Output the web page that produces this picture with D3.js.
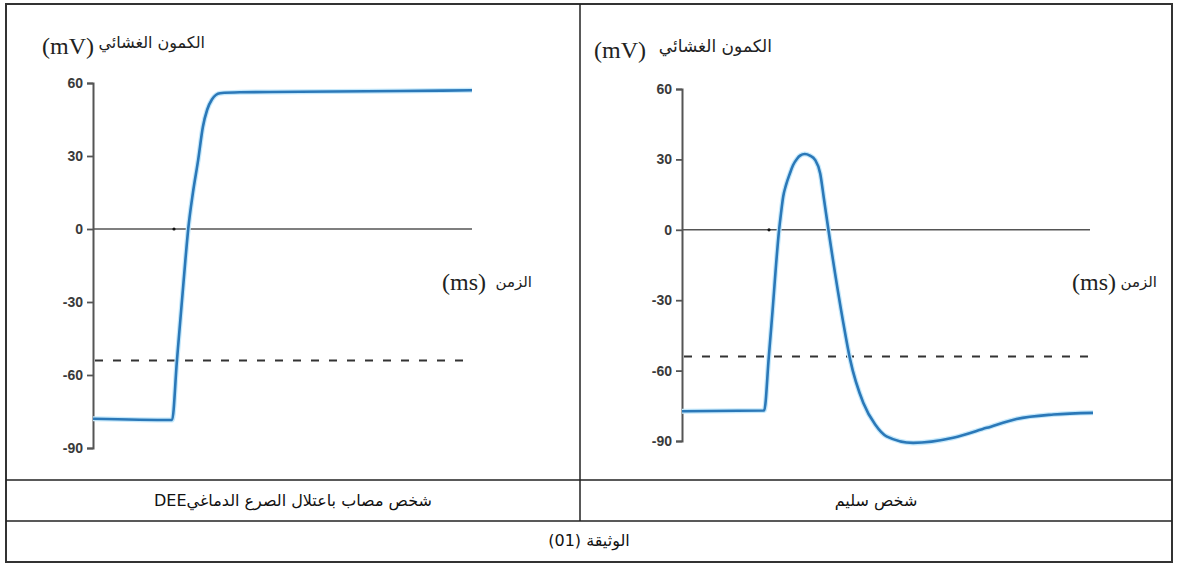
<!DOCTYPE html>
<html>
<head>
<meta charset="utf-8">
<script src="https://cdn.jsdelivr.net/npm/d3@7"></script>
<style>
  body { margin: 0; background: #fff; }
  svg { display: block; }
</style>
</head>
<body>
<svg id="doc" width="1177" height="565"></svg>
<script>
// Membrane potential ticks (mV) and the excitation threshold
const tickValues = [60, 30, 0, -30, -60, -90];
const thresholdMV = -54;
const timeDomain = [0, 8];

// Patient with developmental epileptic encephalopathy (DEE)
const deeTime = [0, 1.67, 1.77, 1.95, 2.01, 2.11, 2.22, 2.32, 2.41, 2.51, 2.68, 3.1, 4.37, 6.48, 8.0];
const deeMV   = [-78, -78.5, -54.5, -12.8, 0, 15, 28.4, 42, 49, 53.2, 55.8, 56.2, 56.4, 56.7, 57];

// Healthy person
const healthyTime = [0, 1.6, 1.69, 1.75, 1.89, 1.927, 1.97, 2.024, 2.1, 2.161, 2.24, 2.298, 2.39, 2.491, 2.59, 2.69, 2.764, 2.85, 3.14, 3.27, 3.53, 3.76, 3.98, 4.5, 5.28, 5.93, 6.51, 7.23, 8.0];
const healthyMV   = [-77.3, -77.0, -54, -38, 0, 7, 14.2, 19, 24, 27.5, 30.3, 31.6, 32.3, 31.6, 29.8, 24, 13, 0, -39.7, -55, -73.8, -83, -88, -90.8, -88.6, -84.4, -80.6, -78.7, -78];

// Texts
const axisTitleAr = "الكمون الغشائي";
const axisUnit = "(mV)";
const timeTitleAr = "الزمن";
const timeUnit = "(ms)";
const captionDEE = "شخص مصاب باعتلال الصرع الدماغيDEE";
const captionHealthy = "شخص سليم";
const docTitle = "الوثيقة (01)";

const svg = d3.select("#doc");
const ink = "#2b78b8";
const axisGrey = "#555";

// Table frame
svg.append("rect")
  .attr("x", 6).attr("y", 4).attr("width", 1166).attr("height", 558)
  .attr("fill", "none").attr("stroke", "#333").attr("stroke-width", 2);
[480, 521].forEach(y => svg.append("line")
  .attr("x1", 6).attr("x2", 1172).attr("y1", y).attr("y2", y)
  .attr("stroke", "#222").attr("stroke-width", 1.5));
svg.append("line")
  .attr("x1", 580).attr("x2", 580).attr("y1", 4).attr("y2", 521)
  .attr("stroke", "#222").attr("stroke-width", 1.5);

function drawPanel(p) {
  const x = d3.scaleLinear().domain(timeDomain).range(p.xRange);
  const y = d3.scaleLinear().domain([-90, 60]).range(p.yRange);
  const g = svg.append("g");

  // zero line
  g.append("line")
    .attr("x1", x(0)).attr("x2", p.zeroEnd)
    .attr("y1", y(0)).attr("y2", y(0))
    .attr("stroke", axisGrey).attr("stroke-width", 1.6);
  g.append("circle").attr("cx", p.dotX).attr("cy", y(0)).attr("r", 1.6).attr("fill", "#111");

  // threshold
  g.append("line")
    .attr("x1", x(0) + 2).attr("x2", p.zeroEnd)
    .attr("y1", y(thresholdMV)).attr("y2", y(thresholdMV))
    .attr("stroke", "#333").attr("stroke-width", 2)
    .attr("stroke-dasharray", "8,10");

  // y axis
  const ax = g.append("g")
    .attr("transform", `translate(${x(0)},0)`)
    .call(d3.axisLeft(y).tickValues(tickValues).tickSize(6).tickPadding(4).tickFormat(d => String(d)));
  ax.select(".domain").attr("stroke", axisGrey).attr("stroke-width", 2);
  ax.selectAll(".tick line").attr("stroke", axisGrey).attr("stroke-width", 1.8);
  ax.selectAll(".tick text")
    .attr("font-family", "'Liberation Sans', Arial, sans-serif")
    .attr("font-weight", "bold").attr("font-size", 14).attr("fill", "#3a3a3a");

  // potential curve
  const pts = p.time.map((t, i) => [t, p.mv[i]]);
  const line = d3.line().x(d => x(d[0])).y(d => y(d[1])).curve(d3.curveMonotoneX);
  g.append("path")
    .attr("d", line(pts))
    .attr("fill", "none").attr("stroke", "#c4e8fb").attr("stroke-width", 5)
    .attr("stroke-linejoin", "round");
  g.append("path")
    .attr("d", line(pts))
    .attr("fill", "none").attr("stroke", ink).attr("stroke-width", 2.6)
    .attr("stroke-linejoin", "round");

  // axis titles
  g.append("text").attr("x", p.unitX).attr("y", p.unitY)
    .attr("font-family", "'Liberation Serif', 'Times New Roman', serif")
    .attr("font-size", 24).attr("fill", "#222").text(axisUnit);
  g.append("text").attr("x", p.arEnd).attr("y", p.unitY - 6)
    .attr("text-anchor", "end")
    .attr("font-family", "'DejaVu Serif', 'DejaVu Sans', serif")
    .attr("font-size", p.arSize).attr("fill", "#222").text(axisTitleAr);

  g.append("text").attr("x", p.msX).attr("y", p.msY)
    .attr("font-family", "'Liberation Serif', 'Times New Roman', serif")
    .attr("font-size", 24).attr("fill", "#222").text(timeUnit);
  g.append("text").attr("x", p.msArEnd).attr("y", p.msY - 3)
    .attr("text-anchor", "end")
    .attr("font-family", "'DejaVu Serif', 'DejaVu Sans', serif")
    .attr("font-size", 15).attr("fill", "#222").text(timeTitleAr);
}

drawPanel({
  xRange: [93, 472], yRange: [448, 83], zeroEnd: 472, dotX: 174,
  time: deeTime, mv: deeMV,
  unitX: 42, unitY: 54, arEnd: 205, arSize: 16,
  msX: 442, msY: 290, msArEnd: 532
});
drawPanel({
  xRange: [682, 1093], yRange: [441, 89], zeroEnd: 1090, dotX: 769,
  time: healthyTime, mv: healthyMV,
  unitX: 594, unitY: 58, arEnd: 772, arSize: 17,
  msX: 1072, msY: 290, msArEnd: 1157
});

// Captions
const capFont = "'DejaVu Sans', 'Noto Sans', sans-serif";
svg.append("text").attr("x", 293).attr("y", 506)
  .attr("text-anchor", "middle").attr("direction", "rtl")
  .attr("font-family", capFont).attr("font-size", 16).attr("fill", "#111")
  .text(captionDEE);
svg.append("text").attr("x", 876).attr("y", 506)
  .attr("text-anchor", "middle").attr("direction", "rtl")
  .attr("font-family", capFont).attr("font-size", 16).attr("fill", "#111")
  .text(captionHealthy);
svg.append("text").attr("x", 589).attr("y", 546)
  .attr("text-anchor", "middle").attr("direction", "rtl")
  .attr("font-family", capFont).attr("font-size", 16).attr("fill", "#111")
  .text(docTitle);
</script>
</body>
</html>
